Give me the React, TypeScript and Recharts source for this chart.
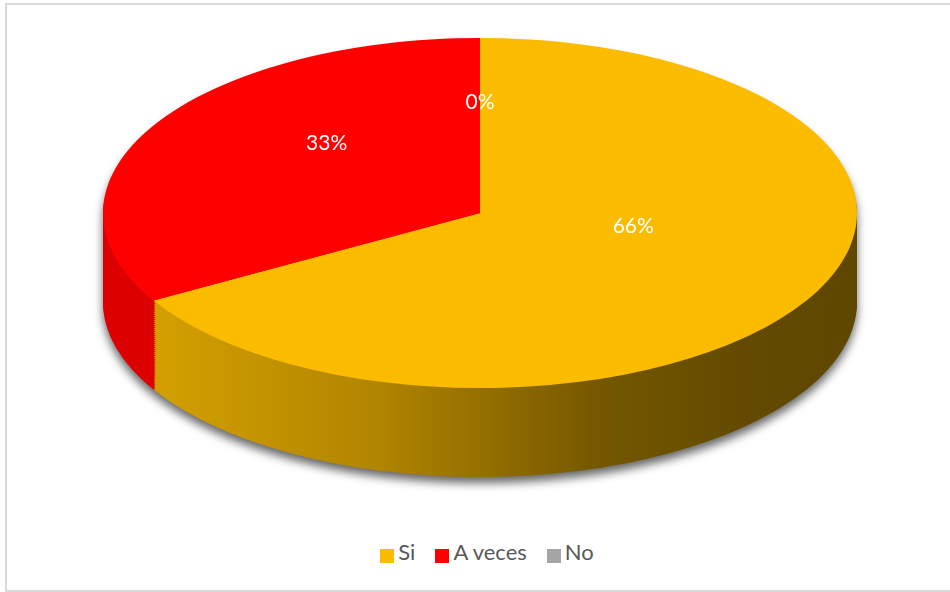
import React from 'react';
import { PieChart, Pie, Cell, Legend } from 'recharts';

// Data
const categories = ['Si', 'A veces', 'No'];
const values = [66, 33, 0];
const labels = ['66%', '33%', '0%'];

// Colors
const TOP_COLORS = ['#fbbc00', '#ff0000', '#a5a5a5'];
const SIDE_COLORS = ['url(#sideGold)', '#dc0000', '#7f7f7f'];

// Geometry of the flattened "3D" pie
const W = 950;
const H = 1050;
const RX = 377;
const K = 175 / 377; // vertical squash
const CX = 480;
const CY = 213 / K;
const DEPTH = 89 / K;
const LAYERS = 45;
const RAD = Math.PI / 180;

const data = categories.map((name, i) => ({ name, value: values[i], label: labels[i] }));
const layerOffsets = Array.from({ length: LAYERS }, (_, i) => (DEPTH * (LAYERS - i)) / LAYERS);

const renderLabel = (props: any) => {
  const { midAngle, index } = props;
  const r = 177;
  const x = CX + r * Math.cos(-midAngle * RAD);
  const y = CY + r * Math.sin(-midAngle * RAD) - 30 / K;
  return (
    <text
      transform={`translate(${x},${y}) scale(1,${1 / K})`}
      fill="#ffffff"
      textAnchor="middle"
      dominantBaseline="central"
      style={{ fontFamily: 'Lato, sans-serif', fontSize: 21 }}
    >
      {data[index].label}
    </text>
  );
};

const legendFormatter = (value: string) => (
  <span style={{ color: '#595959', fontFamily: 'Lato, sans-serif', fontSize: 22, marginRight: 10 }}>
    {value}
  </span>
);

// keep legend in data order
const legendOrder = (item: any) => categories.indexOf(item.value);

export default function App() {
  return (
    <div
      style={{
        position: 'absolute',
        left: 0,
        top: 0,
        width: 950,
        height: 592,
        background: '#ffffff',
        overflow: 'hidden',
      }}
    >
      <div
        style={{
          position: 'absolute',
          left: 5,
          top: 3,
          width: 950,
          height: 585,
          border: '2px solid #d9d9d9',
        }}
      />

      {/* side wall + shadow */}
      <div style={{ position: 'absolute', left: 0, top: 0, filter: 'drop-shadow(0px 6px 5px rgba(0,0,0,0.6))' }}>
        <div style={{ width: W, height: H, transform: `scaleY(${K})`, transformOrigin: '0 0' }}>
          <PieChart width={W} height={H} margin={{ top: 0, right: 0, bottom: 0, left: 0 }}>
            <defs>
              <linearGradient id="sideGold" x1="103" y1="0" x2="857" y2="0" gradientUnits="userSpaceOnUse">
                <stop offset="0" stopColor="#dca600" />
                <stop offset="0.37" stopColor="#b08400" />
                <stop offset="0.66" stopColor="#745700" />
                <stop offset="0.85" stopColor="#634a00" />
                <stop offset="1" stopColor="#604700" />
              </linearGradient>
            </defs>
            {layerOffsets.map((off, li) => (
              <Pie
                key={`layer-${li}`}
                data={data}
                dataKey="value"
                nameKey="name"
                cx={CX}
                cy={CY + off}
                outerRadius={RX}
                startAngle={90}
                endAngle={-270}
                stroke="none"
                isAnimationActive={false}
                legendType="none"
              >
                {data.map((d, i) => (
                  <Cell key={`s-${i}`} fill={SIDE_COLORS[i]} />
                ))}
              </Pie>
            ))}
          </PieChart>
        </div>
      </div>

      {/* top face */}
      <div style={{ position: 'absolute', left: 0, top: 0 }}>
        <div style={{ width: W, height: H, transform: `scaleY(${K})`, transformOrigin: '0 0' }}>
          <PieChart width={W} height={H} margin={{ top: 0, right: 0, bottom: 0, left: 0 }}>
            <Pie
              data={data}
              dataKey="value"
              nameKey="name"
              cx={CX}
              cy={CY}
              outerRadius={RX}
              startAngle={90}
              endAngle={-270}
              stroke="none"
              label={renderLabel}
              labelLine={false}
              isAnimationActive={false}
            >
              {data.map((d, i) => (
                <Cell key={`t-${i}`} fill={TOP_COLORS[i]} />
              ))}
            </Pie>
          </PieChart>
        </div>
      </div>

      {/* legend */}
      <div style={{ position: 'absolute', left: 0, top: 0 }}>
        <PieChart width={W} height={592} margin={{ top: 0, right: 0, bottom: 0, left: 0 }}>
          <Pie
            data={data}
            dataKey="value"
            nameKey="name"
            cx={-10}
            cy={-10}
            outerRadius={0}
            isAnimationActive={false}
          >
            {data.map((d, i) => (
              <Cell key={`l-${i}`} fill={TOP_COLORS[i]} />
            ))}
          </Pie>
          <Legend
            layout="horizontal"
            align="center"
            verticalAlign="top"
            iconType="square"
            iconSize={14}
            itemSorter={legendOrder}
            formatter={legendFormatter}
            wrapperStyle={{ top: 538, left: 22, width: W }}
          />
        </PieChart>
      </div>
    </div>
  );
}
